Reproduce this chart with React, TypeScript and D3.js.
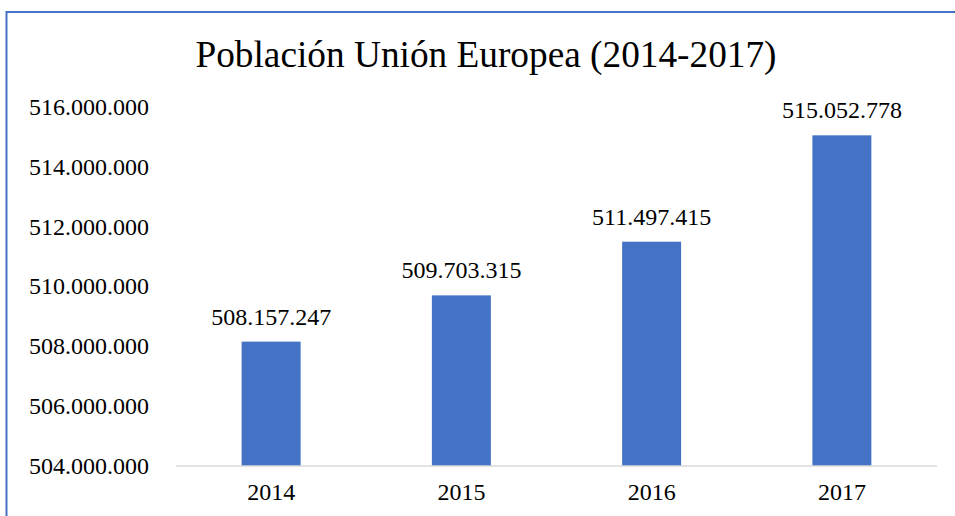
import React from "react";
import * as d3 from "d3";

const years: string[] = ["2014", "2015", "2016", "2017"];
const population: number[] = [508157247, 509703315, 511497415, 515052778];
const yTicks: number[] = [504000000, 506000000, 508000000, 510000000, 512000000, 514000000, 516000000];
const title = "Población Unión Europea (2014-2017)";

const W = 955;
const H = 516;
const FONT = "'Liberation Serif', 'Times New Roman', serif";
const fmt = (v: number) => d3.format(",")(v).replace(/,/g, ".");

export default function App() {
  const x = d3.scaleBand<string>().domain(years).range([176, 937]).paddingInner(0.69).paddingOuter(0.345);
  const y = d3.scaleLinear().domain([504000000, 516000000]).range([466, 107]);
  return (
    <svg width={W} height={H} style={{ position: "absolute", left: 0, top: 0, background: "#fff" }} fontFamily={FONT}>
      <rect x={6.5} y={12} width={1000} height={600} fill="none" stroke="#4472C4" strokeWidth={2} />
      <text x={486} y={67} textAnchor="middle" fontSize={37.3} fill="#000">{title}</text>
      {yTicks.map((t) => (
        <text key={t} x={149} y={y(t)} dy="0.33em" textAnchor="end" fontSize={24} fill="#000">{fmt(t)}</text>
      ))}
      {years.map((yr, i) => (
        <g key={yr}>
          <rect x={x(yr)} y={y(population[i])} width={x.bandwidth()} height={466 - y(population[i])} fill="#4472C4" />
          <text x={(x(yr) as number) + x.bandwidth() / 2} y={y(population[i]) - 17} textAnchor="middle" fontSize={24} fill="#000">{fmt(population[i])}</text>
          <text x={(x(yr) as number) + x.bandwidth() / 2} y={500} textAnchor="middle" fontSize={24} fill="#000">{yr}</text>
        </g>
      ))}
      <line x1={176} x2={937} y1={466} y2={466} stroke="#D9D9D9" strokeWidth={1.5} />
    </svg>
  );
}
